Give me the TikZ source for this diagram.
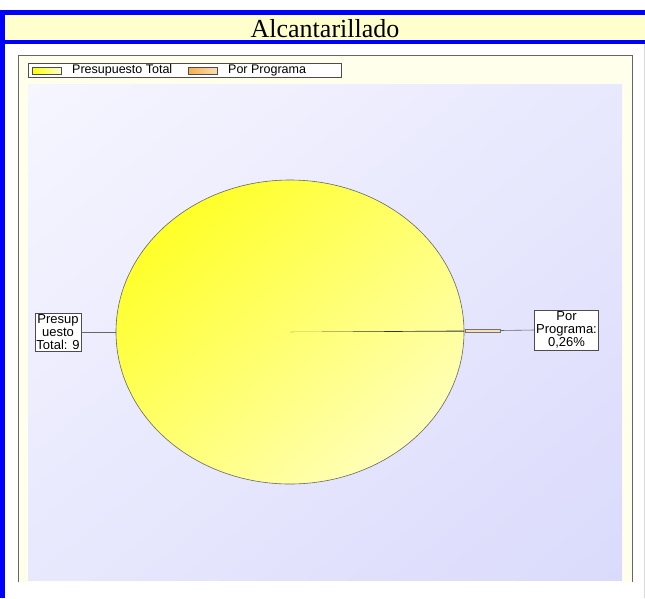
\documentclass[tikz,border=0pt]{standalone}
\usepackage{fontspec}
\setmainfont{Liberation Serif}
\setsansfont{Liberation Sans}
\usetikzlibrary{shapes.geometric,shadings}

\definecolor{barblue}{RGB}{0,0,255}
\definecolor{titlecream}{RGB}{255,255,206}
\definecolor{framecream}{RGB}{255,255,236}
\definecolor{lavlight}{RGB}{246,246,255}
\definecolor{lavdark}{RGB}{218,218,252}
\definecolor{pieyellow}{RGB}{255,255,10}
\definecolor{piepale}{RGB}{255,255,214}
\definecolor{sliceorange}{RGB}{245,175,80}
\definecolor{slicepale}{RGB}{250,222,180}

\begin{document}
\begin{tikzpicture}[x=1pt,y=-1pt]

  \tikzset{
    lbl/.style={draw=black!70,fill=white,align=center,inner sep=1.5pt,
      font=\sffamily\fontsize{13}{13}\selectfont},
    leader/.style={draw=black!60,line width=.6pt},
    swatch/.style={draw=black!70,minimum width=29pt,minimum height=7pt,inner sep=0pt},
    legtext/.style={anchor=west,inner sep=0pt,font=\sffamily\fontsize{12.5}{13}\selectfont}
  }

  \useasboundingbox (0,0) rectangle (645,598);
  \fill[white] (0,0) rectangle (645,598);

  % chart frame and plot area
  \fill[framecream] (18,55) rectangle (632,582);
  \draw[black!60] (18,582) -- (18,55) -- (632,55) -- (632,582);
  \shade[upper left=lavlight, lower right=lavdark,
         upper right=lavlight!50!lavdark, lower left=lavlight!50!lavdark]
    (28,84) rectangle (622,580);
  \draw[black!15] (644,44) -- (644,598);

  % title band
  \fill[barblue] (0,10) rectangle (645,15);
  \fill[titlecream] (5,15) rectangle (645,40);
  \fill[barblue] (0,40) rectangle (645,44);
  \fill[barblue] (0,10) rectangle (5,598);
  \node[anchor=base,inner sep=0pt,font=\fontsize{26}{28}\selectfont] (title) at (325,37) {Alcantarillado};

  % legend
  \node[draw=black!70,fill=white,minimum width=313pt,minimum height=14pt,inner sep=0pt] (legend) at (184.5,70.5) {};
  \node[swatch,upper left=pieyellow,lower left=pieyellow,upper right=piepale,lower right=piepale] (sw1) at (47,70.5) {};
  \node[legtext] (lt1) at (72,70.5) {Presupuesto Total};
  \node[swatch,upper left=sliceorange,lower left=sliceorange,upper right=slicepale,lower right=slicepale] (sw2) at (203,70.5) {};
  \node[legtext] (lt2) at (228,70.5) {Por Programa};

  % pie
  \node[ellipse,draw=black!60,line width=.6pt,minimum width=348pt,minimum height=304pt,
        upper left=pieyellow,lower right=piepale,
        upper right=pieyellow!50!piepale,lower left=pieyellow!50!piepale] (pie) at (290,332) {};
  \fill[black!80] (pie.center) -- (464,330.6) -- (464,331.6) -- cycle;
  \coordinate (sliceend) at (500,330.5);
  \filldraw[fill=slicepale,draw=black!55,line width=.4pt]
    (465,329.2) -- (500,329.2) -- (500,331.8) -- (465,331.8) -- cycle;

  % data labels
  \node[lbl] (lblTotal) at (58,332) {Presup\\uesto\\Total: 9};
  \node[lbl] (lblProg) at (566.5,330) {Por\\Programa:\\0,26\%};
  \draw[leader] (lblTotal.east) -- (pie.west);
  \draw[leader] (sliceend) -- (lblProg.west);

\end{tikzpicture}
\end{document}
